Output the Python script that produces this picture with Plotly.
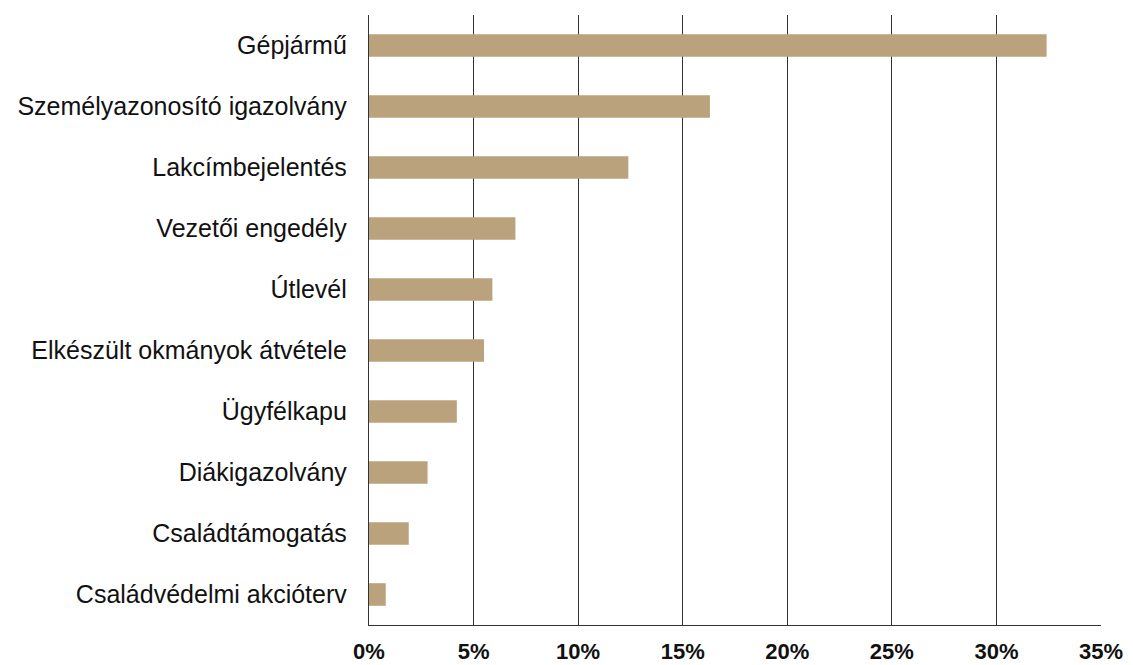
import plotly.graph_objects as go

categories = [
    "Gépjármű",
    "Személyazonosító igazolvány",
    "Lakcímbejelentés",
    "Vezetői engedély",
    "Útlevél",
    "Elkészült okmányok átvétele",
    "Ügyfélkapu",
    "Diákigazolvány",
    "Családtámogatás",
    "Családvédelmi akcióterv",
]
values = [32.4, 16.3, 12.4, 7.0, 5.9, 5.5, 4.2, 2.8, 1.9, 0.8]
tick_vals = [0, 5, 10, 15, 20, 25, 30, 35]
tick_text = ["0%", "5%", "10%", "15%", "20%", "25%", "30%", "35%"]

fig = go.Figure(
    go.Bar(
        y=categories,
        x=values,
        orientation="h",
        marker=dict(color="#B9A27C", line=dict(width=0)),
        width=0.37,
    )
)

fig.update_layout(
    width=1125,
    height=657,
    margin=dict(l=361, r=32, t=7, b=40),
    plot_bgcolor="white",
    paper_bgcolor="white",
    showlegend=False,
    font=dict(family="Liberation Sans, Arial, sans-serif", color="#111"),
)
fig.update_xaxes(
    range=[0, 35],
    tickvals=tick_vals,
    ticktext=tick_text,
    showgrid=True,
    gridcolor="#333",
    gridwidth=1.4,
    showline=True,
    linecolor="#333",
    linewidth=1.4,
    zeroline=False,
    tickfont=dict(size=22, family="Liberation Sans, Arial, sans-serif", color="#111", weight="bold"),
    ticks="",
    ticklabelstandoff=6,
    automargin=False,
)
fig.update_yaxes(
    autorange="reversed",
    showline=True,
    linecolor="#333",
    linewidth=1.4,
    showgrid=False,
    tickfont=dict(size=25, color="#111"),
    ticks="",
    ticklabelstandoff=16,
    automargin=False,
)

fig.write_html("out.html")
